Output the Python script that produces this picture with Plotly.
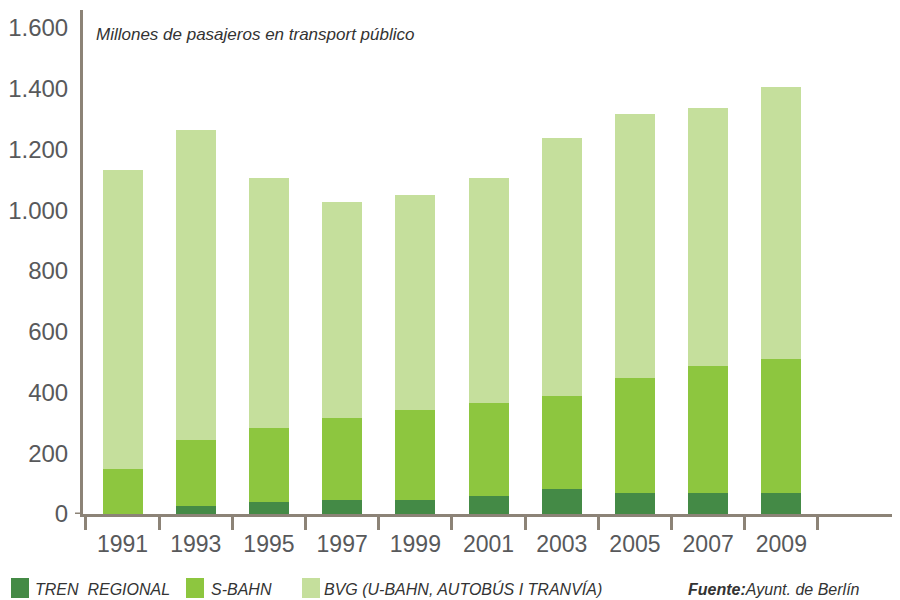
import plotly.graph_objects as go

years = ["1991", "1993", "1995", "1997", "1999", "2001", "2003", "2005", "2007", "2009"]
tren_regional = [0, 26, 40, 46, 46, 59, 82, 69, 69, 69]
s_bahn = [148, 217, 243, 270, 296, 306, 306, 378, 418, 441]
bvg = [984, 1020, 822, 710, 707, 740, 849, 869, 849, 895]

series_names = ["TREN  REGIONAL", "S-BAHN", "BVG (U-BAHN, AUTOBÚS I TRANVÍA)"]
series_colors = ["#448a46", "#8dc63f", "#c5df9c"]

y_tickvals = [0, 200, 400, 600, 800, 1000, 1200, 1400, 1600]
y_ticktext = ["0", "200", "400", "600", "800", "1.000", "1.200", "1.400", "1.600"]

title_text = "Millones de pasajeros en transport público"
source_bold = "Fuente:"
source_text = "Ayunt. de Berlín"

# page body has an 8px margin; the figure is sized/shifted to compensate
OFF = 8
W, H = 900 - OFF, 600 - OFF
PLOT_L, PLOT_T, PLOT_R, PLOT_B = 83, 10, 900, 514   # plot area in page pixels
ML, MT = PLOT_L - OFF, PLOT_T - OFF
PW, PH = PLOT_R - PLOT_L, PLOT_B - PLOT_T
MR, MB = W - ML - PW, H - MT - PH
AXIS = "#8c8377"
TXT = "Liberation Sans, Arial, sans-serif"


def px(p):
    return (p - PLOT_L) / PW


def py(q):
    return (PLOT_B - q) / PH


fig = go.Figure()
for name, vals, col in zip(series_names, [tren_regional, s_bahn, bvg], series_colors):
    fig.add_trace(go.Bar(x=years, y=vals, name=name, marker=dict(color=col, line=dict(width=0)),
                         width=0.546, showlegend=False))

x_left = -0.54
fig.update_layout(
    width=W, height=H,
    margin=dict(l=ML, r=MR, t=MT, b=MB, pad=0),
    barmode="stack",
    plot_bgcolor="white", paper_bgcolor="white",
    xaxis=dict(type="category", range=[x_left, x_left + PW / 73.2], showline=True, linecolor=AXIS,
               linewidth=3, ticks="outside", tickson="boundaries", ticklen=13, tickwidth=3,
               tickcolor=AXIS, showgrid=False, zeroline=False, ticklabelstandoff=7,
               tickfont=dict(family=TXT, size=23, color="#58595b")),
    yaxis=dict(range=[0, 1659], showline=True, linecolor=AXIS, linewidth=3, showgrid=False,
               zeroline=False, tickvals=y_tickvals, ticktext=y_ticktext, ticks="",
               ticklabelstandoff=7,
               tickfont=dict(family=TXT, size=24, color="#58595b")),
)

shapes = [dict(type="line", xref="paper", yref="y", x0=px(75), x1=px(83), y0=0, y1=0,
               line=dict(color=AXIS, width=3))]
annotations = [dict(xref="paper", yref="paper", x=px(94), y=py(34), xanchor="left", yanchor="middle",
                    text=title_text, showarrow=False,
                    font=dict(family=TXT, size=17, color="#333333", style="italic"))]

legend_pos = [(11, 33), (186, 209), (302, 322)]
for (sx, tx), name, col in zip(legend_pos, series_names, series_colors):
    shapes.append(dict(type="rect", xref="paper", yref="paper", x0=px(sx), x1=px(sx + 18),
                       y0=py(598), y1=py(578), fillcolor=col, line=dict(width=0)))
    annotations.append(dict(xref="paper", yref="paper", x=px(tx), y=py(589), xanchor="left",
                            yanchor="middle", text=name, showarrow=False,
                            font=dict(family=TXT, size=16, color="#333333", style="italic")))
annotations.append(dict(xref="paper", yref="paper", x=px(686), y=py(589), xanchor="left",
                        yanchor="middle", text="<b>" + source_bold + "</b>" + source_text,
                        showarrow=False,
                        font=dict(family=TXT, size=16, color="#333333", style="italic")))
fig.update_layout(shapes=shapes, annotations=annotations)

fig.write_html("out.html")
